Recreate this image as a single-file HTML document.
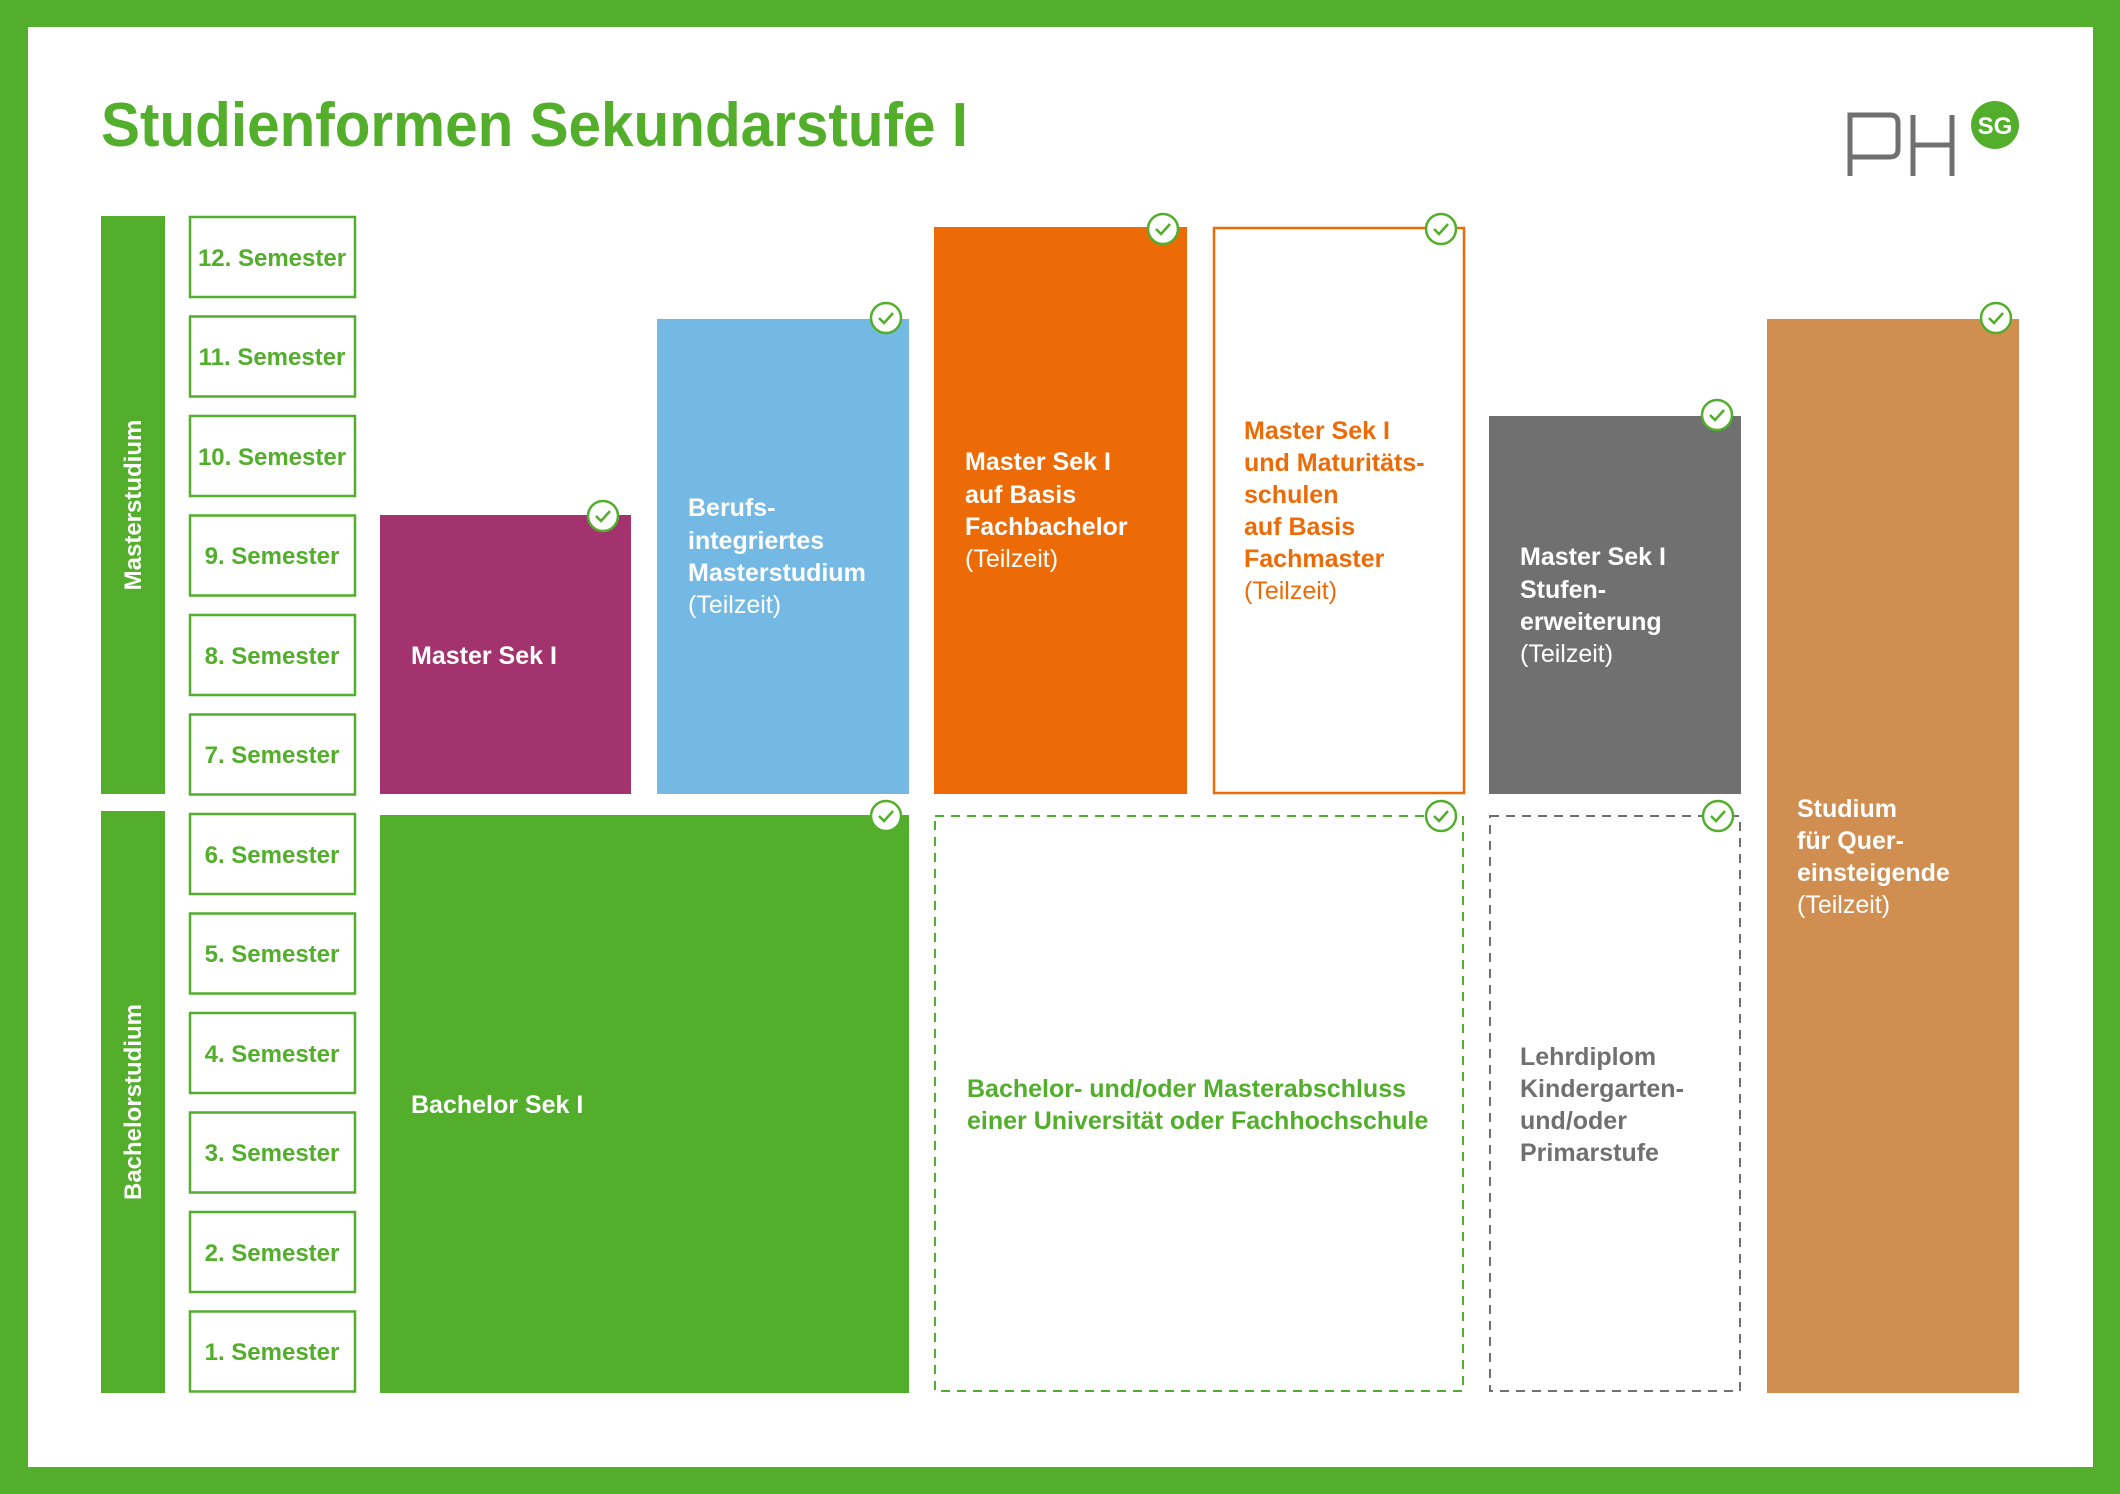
<!DOCTYPE html>
<html><head><meta charset="utf-8"><style>html,body{margin:0;padding:0;background:#fff}svg{display:block}</style></head>
<body>
<svg width="2120" height="1494" viewBox="0 0 2120 1494" xmlns="http://www.w3.org/2000/svg" font-family="Liberation Sans, sans-serif">
<defs>
<g id="ck"><circle r="15" fill="#fff" stroke="#52ae2b" stroke-width="2.5"/><path d="M-7,0 L-2,5 L7,-5" fill="none" stroke="#52ae2b" stroke-width="2.5"/></g>
</defs>
<rect width="2120" height="1494" fill="#52ae2b"/>
<rect x="28" y="27" width="2065" height="1440" fill="#fff"/>
<text x="101" y="146" font-size="62" font-weight="bold" fill="#52ae2b" textLength="867" lengthAdjust="spacingAndGlyphs">Studienformen Sekundarstufe I</text>
<!-- logo -->
<g fill="none" stroke="#6f706f" stroke-width="5">
<path d="M1850,176 V115 H1890 Q1898,115 1898,123 V149 Q1898,157 1890,157 H1850"/>
<path d="M1913,115 V176 M1913,145 H1952 M1952,115 V176"/>
</g>
<circle cx="1995" cy="125" r="24" fill="#52ae2b"/>
<text x="1995" y="134" font-size="24" font-weight="bold" fill="#fff" text-anchor="middle">SG</text>
<!-- side bars -->
<rect x="101" y="216" width="64" height="578" fill="#52ae2b"/>
<rect x="101" y="811" width="64" height="582" fill="#52ae2b"/>
<text transform="translate(141,505) rotate(-90)" font-size="24" font-weight="bold" fill="#fff" text-anchor="middle">Masterstudium</text>
<text transform="translate(141,1102) rotate(-90)" font-size="24" font-weight="bold" fill="#fff" text-anchor="middle">Bachelorstudium</text>
<!-- semesters -->
<g fill="#fff" stroke="#52ae2b" stroke-width="2.5">
<rect x="190" y="217" width="165" height="80"/><rect x="190" y="316.5" width="165" height="80"/><rect x="190" y="416" width="165" height="80"/><rect x="190" y="515.5" width="165" height="80"/><rect x="190" y="615" width="165" height="80"/><rect x="190" y="714.5" width="165" height="80"/><rect x="190" y="814" width="165" height="80"/><rect x="190" y="913.5" width="165" height="80"/><rect x="190" y="1013" width="165" height="80"/><rect x="190" y="1112.5" width="165" height="80"/><rect x="190" y="1212" width="165" height="80"/><rect x="190" y="1311.5" width="165" height="80"/>
</g>
<g font-size="24" font-weight="bold" fill="#52ae2b" text-anchor="middle">
<text x="272" y="266">12. Semester</text><text x="272" y="365">11. Semester</text><text x="272" y="465">10. Semester</text><text x="272" y="564">9. Semester</text><text x="272" y="664">8. Semester</text><text x="272" y="763">7. Semester</text><text x="272" y="863">6. Semester</text><text x="272" y="962">5. Semester</text><text x="272" y="1062">4. Semester</text><text x="272" y="1161">3. Semester</text><text x="272" y="1261">2. Semester</text><text x="272" y="1360">1. Semester</text>
</g>
<!-- blocks -->
<rect x="380" y="515" width="251" height="279" fill="#a2336f"/>
<rect x="657" y="319" width="252" height="475" fill="#74b9e4"/>
<rect x="934" y="227" width="253" height="567" fill="#ed6b06"/>
<rect x="1214" y="228" width="250" height="565" fill="#fff" stroke="#ed6b06" stroke-width="2.5"/>
<rect x="1489" y="416" width="252" height="378" fill="#6f706f"/>
<rect x="1767" y="319" width="252" height="1074" fill="#d08f51"/>
<rect x="380" y="815" width="529" height="578" fill="#52ae2b"/>
<rect x="935" y="816" width="528" height="575" fill="none" stroke="#52ae2b" stroke-width="2" stroke-dasharray="9,7"/>
<rect x="1490" y="816" width="250" height="575" fill="none" stroke="#6f706f" stroke-width="2" stroke-dasharray="9,7"/>
<!-- checks -->
<use href="#ck" x="603" y="516"/><use href="#ck" x="886" y="318"/><use href="#ck" x="1163" y="229"/><use href="#ck" x="1441" y="229"/><use href="#ck" x="1717" y="415"/><use href="#ck" x="1996" y="318"/><use href="#ck" x="886" y="816"/><use href="#ck" x="1441" y="816"/><use href="#ck" x="1718" y="816"/>
<!-- labels -->
<g font-size="25" font-weight="bold">
<text x="411" y="664" fill="#fff">Master Sek I</text>
<text fill="#fff"><tspan x="688" y="516">Berufs-</tspan><tspan x="688" y="549">integriertes</tspan><tspan x="688" y="581">Masterstudium</tspan><tspan x="688" y="613" font-weight="normal">(Teilzeit)</tspan></text>
<text fill="#fff"><tspan x="965" y="470">Master Sek I</tspan><tspan x="965" y="503">auf Basis</tspan><tspan x="965" y="535">Fachbachelor</tspan><tspan x="965" y="567" font-weight="normal">(Teilzeit)</tspan></text>
<text fill="#ed6b06"><tspan x="1244" y="439">Master Sek I</tspan><tspan x="1244" y="471">und Maturitäts-</tspan><tspan x="1244" y="503">schulen</tspan><tspan x="1244" y="535">auf Basis</tspan><tspan x="1244" y="567">Fachmaster</tspan><tspan x="1244" y="599" font-weight="normal">(Teilzeit)</tspan></text>
<text fill="#fff"><tspan x="1520" y="565">Master Sek I</tspan><tspan x="1520" y="598">Stufen-</tspan><tspan x="1520" y="630">erweiterung</tspan><tspan x="1520" y="662" font-weight="normal">(Teilzeit)</tspan></text>
<text fill="#fff"><tspan x="1797" y="817">Studium</tspan><tspan x="1797" y="849">für Quer-</tspan><tspan x="1797" y="881">einsteigende</tspan><tspan x="1797" y="913" font-weight="normal">(Teilzeit)</tspan></text>
<text x="411" y="1113" fill="#fff">Bachelor Sek I</text>
<text fill="#52ae2b"><tspan x="967" y="1097">Bachelor- und/oder Masterabschluss</tspan><tspan x="967" y="1129">einer Universität oder Fachhochschule</tspan></text>
<text fill="#6f706f"><tspan x="1520" y="1065">Lehrdiplom</tspan><tspan x="1520" y="1097">Kindergarten-</tspan><tspan x="1520" y="1129">und/oder</tspan><tspan x="1520" y="1161">Primarstufe</tspan></text>
</g>
</svg>
</body></html>
